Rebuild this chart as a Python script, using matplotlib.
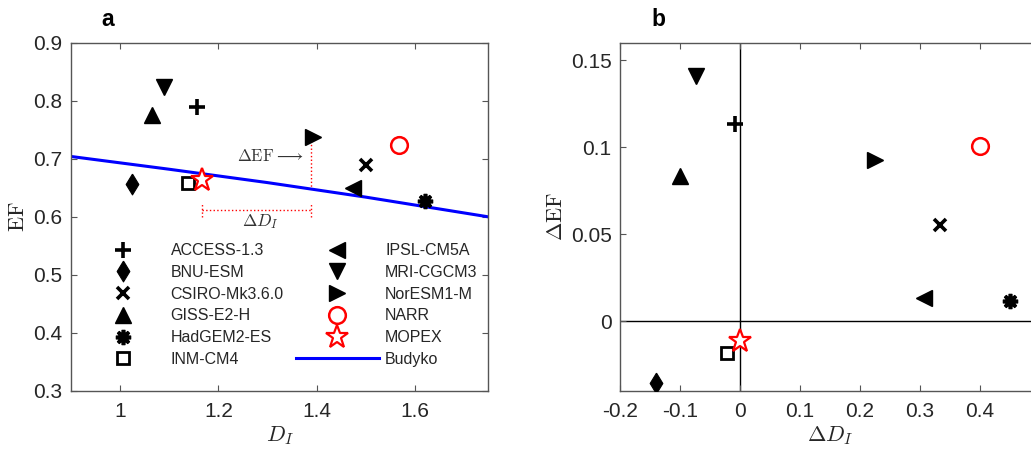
import numpy as np
import matplotlib
matplotlib.use("Agg")
import matplotlib.pyplot as plt

plt.rcParams['font.family'] = ['Liberation Sans', 'DejaVu Sans']
plt.rcParams['mathtext.fontset'] = 'cm'

# ---------------- data ----------------
models = ['ACCESS-1.3', 'BNU-ESM', 'CSIRO-Mk3.6.0', 'GISS-E2-H', 'HadGEM2-ES',
          'INM-CM4', 'IPSL-CM5A', 'MRI-CGCM3', 'NorESM1-M', 'NARR', 'MOPEX']
di = [1.157, 1.024, 1.500, 1.064, 1.620, 1.139, 1.474, 1.089, 1.392, 1.567, 1.167]
ef = [0.790, 0.657, 0.689, 0.775, 0.628, 0.659, 0.650, 0.823, 0.738, 0.724, 0.664]
d_di = [-0.009, -0.1405, 0.333, -0.100, 0.4495, -0.021, 0.307, -0.073, 0.225, 0.3995, 0.0]
d_ef = [0.1134, -0.0354, 0.0556, 0.0837, 0.0115, -0.0184, 0.0132, 0.1406, 0.0928, 0.1004, -0.0111]

bud_x = [0.9, 1.1, 1.3, 1.5, 1.75]
bud_y = [0.704, 0.682, 0.659, 0.634, 0.600]

# ---------------- styles ----------------
K = 'black'
R = (1, 0, 0)
diamond = [(0, 1), (0.61, 0), (0, -1), (-0.61, 0), (0, 1)]
styles = [
    dict(marker='+', ms=11, mew=2.6, mec=K, mfc=K),
    dict(marker=diamond, ms=15, mew=0.8, mec=K, mfc=K),
    dict(marker='x', ms=8.5, mew=2.6, mec=K, mfc=K),
    dict(marker='^', ms=12, mew=1, mec=K, mfc=K),
    dict(marker=(8, 2, 0), ms=11, mew=2.6, mec=K, mfc=K),
    dict(marker='s', ms=8.5, mew=2, mec=K, mfc='none'),
    dict(marker='<', ms=12, mew=1, mec=K, mfc=K),
    dict(marker='v', ms=12, mew=1, mec=K, mfc=K),
    dict(marker='>', ms=12, mew=1, mec=K, mfc=K),
    dict(marker='o', ms=12, mew=1.8, mec=R, mfc='none'),
    dict(marker='*', ms=17, mew=1.6, mec=R, mfc='white'),
]

TXT = '#262626'
SP = '#555555'

fig = plt.figure(figsize=(10.31, 4.49), dpi=100)
axa = fig.add_axes([0.0689, 0.1292, 0.4048, 0.7757])
axb = fig.add_axes([0.6014, 0.1292, 0.4074, 0.7757])

for ax in (axa, axb):
    for s in ax.spines.values():
        s.set_color(SP)
        s.set_linewidth(1.0)
    ax.tick_params(direction='in', length=4, width=0.8, color=SP, labelcolor=TXT,
                   labelsize=15, top=True, right=True, pad=6)
    ax.tick_params(axis='x', pad=8)

# ---------------- panel a ----------------
bud_line, = axa.plot(bud_x, bud_y, color=(0, 0, 1), lw=2.2, zorder=2)
handles = []
for i, name in enumerate(models):
    h, = axa.plot([di[i]], [ef[i]], linestyle='none', zorder=3, label=name, **styles[i])
    handles.append(h)
bud_line.set_label('Budyko')
handles.append(bud_line)

# annotation: ΔEF and ΔD_I
x_nor, y_nor = di[8], ef[8]
y_bud = np.interp(x_nor, bud_x, bud_y)
x_dl = x_nor - 0.004
axa.plot([x_dl, x_dl], [y_nor, y_bud], color=R, ls=':', lw=1.0, zorder=1)
yh = 0.611
axa.plot([di[10], x_dl], [yh, yh], color=R, ls=':', lw=1.0, zorder=1)
for xx in (di[10], x_dl):
    axa.plot([xx, xx], [0.600, 0.622], color=R, ls=':', lw=1.0, zorder=1)
axa.text(1.238, 0.704, r'$\Delta\mathrm{EF}\longrightarrow$', fontsize=12, color='#333333',
         ha='left', va='center')
axa.text(1.286, 0.592, r'$\Delta D_I$', fontsize=12.5, color='#333333', ha='center', va='center')

axa.set_xlim(0.9, 1.75)
axa.set_ylim(0.3, 0.9)
axa.set_xticks([1, 1.2, 1.4, 1.6])
axa.set_xticklabels(['1', '1.2', '1.4', '1.6'])
axa.set_yticks([0.3, 0.4, 0.5, 0.6, 0.7, 0.8, 0.9])
axa.set_yticklabels(['0.3', '0.4', '0.5', '0.6', '0.7', '0.8', '0.9'])
axa.set_xlabel(r'$D_I$', fontsize=16, color=TXT, labelpad=2)
axa.set_ylabel(r'$\mathrm{EF}$', fontsize=16, color=TXT, labelpad=3)

leg = axa.legend(handles=handles, ncol=2, loc='upper left',
                 bbox_to_anchor=(0.0786, 0.458), bbox_transform=fig.transFigure,
                 frameon=False, fontsize=11.5, handlelength=5.2, handletextpad=0.4,
                 columnspacing=0.75, labelspacing=0.42, borderpad=0, borderaxespad=0,
                 numpoints=1)
for t in leg.get_texts():
    t.set_color(TXT)

# ---------------- panel b ----------------
axb.axvline(0, color='black', lw=1.0, zorder=1)
axb.axhline(0, color='black', lw=1.0, zorder=1)
for i, name in enumerate(models):
    axb.plot([d_di[i]], [d_ef[i]], linestyle='none', zorder=3, **styles[i])
axb.set_xlim(-0.2, 0.5)
axb.set_ylim(-0.04, 0.16)
axb.set_xticks([-0.2, -0.1, 0, 0.1, 0.2, 0.3, 0.4, 0.5])
axb.set_xticklabels(['-0.2', '-0.1', '0', '0.1', '0.2', '0.3', '0.4', ''])
axb.set_yticks([0, 0.05, 0.1, 0.15])
axb.set_yticklabels(['0', '0.05', '0.1', '0.15'])
axb.set_xlabel(r'$\Delta D_I$', fontsize=16, color=TXT, labelpad=2)
axb.set_ylabel(r'$\Delta\mathrm{EF}$', fontsize=16, color=TXT, labelpad=3)

fig.text(108 / 1031, 1 - 26.3 / 449, 'a', fontsize=16.5, fontweight='bold', ha='center', va='baseline')
fig.text(658 / 1031, 1 - 26.3 / 449, 'b', fontsize=16.5, fontweight='bold', ha='center', va='baseline')

fig.savefig('out.png', dpi=100)
